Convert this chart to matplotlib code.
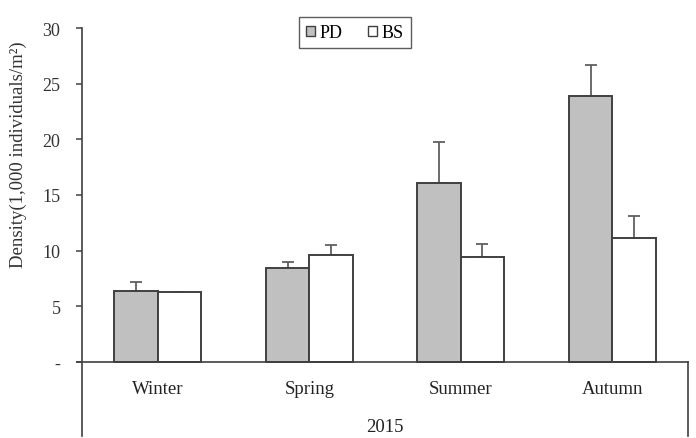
import matplotlib
matplotlib.use("Agg")
import matplotlib.pyplot as plt
from matplotlib.patches import Patch
import numpy as np

plt.rcParams['font.family'] = ['Liberation Serif', 'DejaVu Serif']

seasons = ["Winter", "Spring", "Summer", "Autumn"]
year_label = "2015"
pd_vals = [6.4, 8.4, 16.1, 23.9]
pd_err = [0.8, 0.55, 3.7, 2.8]
bs_vals = [6.3, 9.6, 9.45, 11.15]
bs_err = [0.0, 0.9, 1.15, 1.95]
yticks = [0, 5, 10, 15, 20, 25, 30]
ytick_labels = ["-", "5", "10", "15", "20", "25", "30"]

W, H = 696, 439
fig = plt.figure(figsize=(W / 100, H / 100), dpi=100)
ax_left, ax_right, ax_top, ax_bot = 82, 688, 29, 437
ax = fig.add_axes([ax_left / W, 1 - ax_bot / H, (ax_right - ax_left) / W, (ax_bot - ax_top) / H])

x = np.arange(len(seasons))
bw = 0.287
edge = '#404040'
ax.bar(x - bw / 2, pd_vals, bw, color='#c0c0c0', edgecolor=edge, linewidth=1.4, zorder=3)
ax.bar(x + bw / 2, bs_vals, bw, color='white', edgecolor=edge, linewidth=1.4, zorder=3)
errkw = dict(fmt='none', ecolor='#606060', elinewidth=1.3, capsize=4, capthick=1.3, zorder=2)
ax.errorbar(x - bw / 2, pd_vals, yerr=[np.zeros(4), pd_err], **errkw)
ax.errorbar(x + bw / 2, bs_vals, yerr=[np.zeros(4), bs_err], **errkw)

ymin = -(ax_bot - 363) / ((363 - 29) / 30)
ax.set_ylim(ymin, 30)
ax.set_xlim(-0.5, len(seasons) - 0.5)

for s in ['top', 'right', 'bottom']:
    ax.spines[s].set_visible(False)
ax.spines['left'].set_color('#404040')
ax.spines['left'].set_linewidth(1.2)

# zero line and right frame
ax.plot([-0.53, len(seasons) - 0.5], [0, 0], color='#404040', lw=1.2, clip_on=False, zorder=4)
ax.plot([len(seasons) - 0.5, len(seasons) - 0.5], [ymin, 0], color='#404040', lw=1.2, clip_on=False, zorder=4)

ax.set_yticks(yticks)
ax.set_yticklabels(ytick_labels)
ax.tick_params(axis='y', direction='out', length=4.5, width=1.1, color='#404040', pad=11,
               labelsize=13, labelcolor='#333333')
ax.set_xticks([])

for i, s in enumerate(seasons):
    ax.text(i, -2.4, s, ha='center', va='center', fontsize=13.5, color='#222222')
ax.text((len(seasons) - 1) / 2, -5.8, year_label, ha='center', va='center', fontsize=13.5, color='#222222')

fig.text(18 / W, 1 - 155 / H, "Density(1,000 individuals/m²)", rotation=90,
         ha='center', va='center', fontsize=13.5, color='#333333')

handles = [Patch(facecolor='#c0c0c0', edgecolor=edge, linewidth=1.0),
           Patch(facecolor='white', edgecolor=edge, linewidth=1.0)]
leg = fig.legend(handles, ["PD", "BS"], loc='upper center', bbox_to_anchor=(355 / W, 1 - 18 / H),
                 ncol=2, frameon=True, fancybox=False, edgecolor='#333333', fontsize=13,
                 handlelength=0.5, handleheight=0.5, handletextpad=0.25, columnspacing=1.4,
                 borderpad=0.4, borderaxespad=0)
leg.get_frame().set_linewidth(1.0)

fig.savefig("out.png", dpi=100)
